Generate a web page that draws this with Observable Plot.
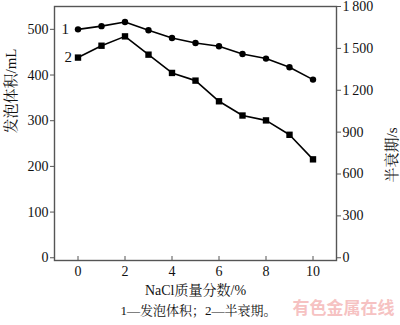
<!DOCTYPE html>
<html><head><meta charset="utf-8">
<script src="https://cdn.jsdelivr.net/npm/d3@7"></script>
<script src="https://cdn.jsdelivr.net/npm/@observablehq/plot@0.6"></script>
<style>body{margin:0;background:#fff}</style>
</head><body><div id="chart"></div>
<script>
const nacl = [0,1,2,3,4,5,6,7,8,9,10];
const foamVolume = [500,507,516,498,481,470,463,446,436,417,390];
const halfLife = [1434,1519,1586,1455,1324,1269,1121,1019,984,881,705];
const leftTicks = [0,100,200,300,400,500];
const rightTicks = [0,300,600,900,1200,1500,1800];
const xTicks = [0,2,4,6,8,10];
const seriesLabels = ["1","2"];

const k = 550/1800;
const fmt = d => { const v = Math.round(d/k); return v >= 1000 ? Math.floor(v/1000) + "\u2009" + String(v%1000).padStart(3,"0") : String(v); };
const vol = nacl.map((x,i)=>({x, y: foamVolume[i]}));
const hl = nacl.map((x,i)=>({x, y: halfLife[i]*k}));
const serif = "'Liberation Serif','Times New Roman',serif";
const cjk = "'Liberation Serif','Noto Serif CJK SC','Noto Sans CJK SC',serif";

const chart = Plot.plot({
  width: 400, height: 325,
  marginLeft: 54, marginRight: 64, marginTop: 6, marginBottom: 65,
  style: {fontFamily: serif, fontSize: "13px", color: "#111", background: "#fff"},
  x: {domain: [-1, 11]},
  y: {domain: [-6, 550]},
  marks: [
    Plot.frame({stroke: "#555", strokeWidth: 1.4}),
    Plot.axisY(leftTicks, {anchor: "left", tickSize: 4, tickPadding: 2, label: null, stroke: "#555", fontSize: 14}),
    Plot.axisY(rightTicks.map(t=>t*k), {anchor: "right", tickSize: 4, tickPadding: 2, tickFormat: fmt, label: null, stroke: "#555", fontSize: 14}),
    Plot.axisX(xTicks, {anchor: "bottom", tickSize: -4, tickPadding: 10, label: null, stroke: "#555", fontSize: 14}),
    Plot.line(vol, {x: "x", y: "y", stroke: "#000", strokeWidth: 1.6}),
    Plot.dot(vol, {x: "x", y: "y", r: 3.2, fill: "#000"}),
    Plot.line(hl, {x: "x", y: "y", stroke: "#000", strokeWidth: 1.6}),
    Plot.dot(hl, {x: "x", y: "y", r: 3.6, fill: "#000", symbol: "square"}),
    Plot.text([vol[0]], {x: "x", y: "y", text: () => seriesLabels[0], dx: -9, textAnchor: "end", fontSize: 15, fontFamily: serif}),
    Plot.text([hl[0]], {x: "x", y: "y", text: () => seriesLabels[1], dx: -6, textAnchor: "end", fontSize: 15, fontFamily: serif}),
    Plot.text(["NaCl质量分数/%"], {frameAnchor: "bottom", dy: 34, fontSize: 14, fontFamily: cjk, text: d=>d}),
    Plot.text(["1—发泡体积；2—半衰期。"], {frameAnchor: "bottom", dy: 54, dx: 3, fontSize: 13, fontFamily: cjk, text: d=>d}),
    Plot.text(["有色金属在线"], {frameAnchor: "bottom-right", dy: 53, dx: 7, textAnchor: "middle", fontSize: 17, fontWeight: "bold", fill: "#f6c2c2", fontFamily: "'Noto Sans CJK SC',sans-serif", text: d=>d}),
    Plot.text(["发泡体积/mL"], {frameAnchor: "left", dx: -43, dy: 0, rotate: -90, fontSize: 15, fontFamily: cjk, text: d=>d}),
    Plot.text(["半衰期/s"], {frameAnchor: "right", dx: 56, dy: -6, rotate: -90, fontSize: 15, fontFamily: cjk, text: d=>d})
  ]
});
document.getElementById("chart").appendChild(chart);
</script>
</body></html>
